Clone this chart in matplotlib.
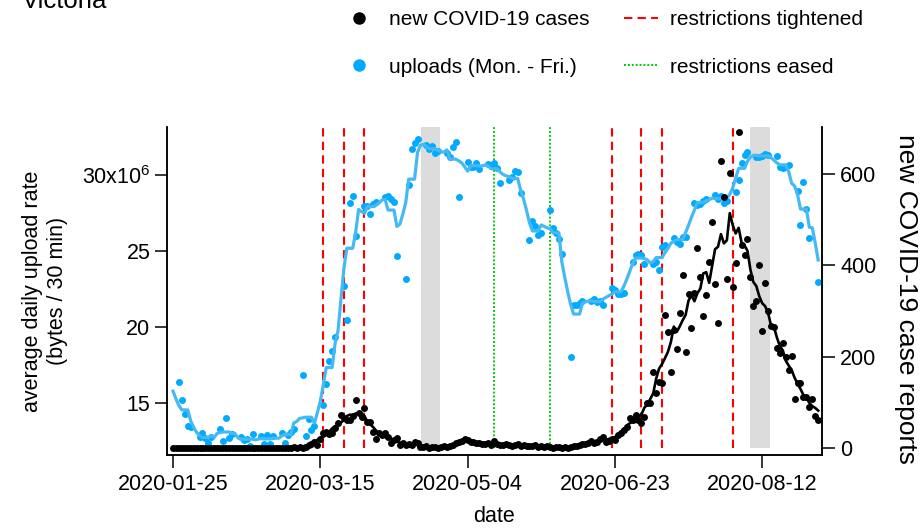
import matplotlib
matplotlib.use("Agg")
import matplotlib.pyplot as plt
from matplotlib.lines import Line2D
import pandas as pd

plt.rcParams['font.family'] = ['Liberation Sans', 'DejaVu Sans']
plt.rcParams['mathtext.fontset'] = 'custom'
plt.rcParams['mathtext.rm'] = 'Liberation Sans'

# daily new cases, Victoria, from 2020-01-25
case_start = '2020-01-25'
cases = [1, 0, 0, 0, 1, 1, 0, 1, 0, 0,
         0, 0, 0, 0, 0, 0, 0, 0, 0, 0,
         0, 0, 0, 0, 0, 0, 0, 0, 0, 0,
         0, 0, 0, 0, 0, 0, 1, 0, 0, 1,
         1, 2, 1, 2,
         1, 3, 6, 9, 14, 6,
         20, 32, 36, 30, 32, 43, 55, 72, 65, 61,
         62, 70, 105, 76, 68, 87, 58, 58, 36, 19,
         32, 28, 32, 25, 12, 18, 21, 7, 10, 7,
         9, 6, 14, 12,
         3, 2, 4, 1, 3, 2, 1, 2, 4, 3, 5, 7,
         10, 13, 16, 19, 17, 14, 13, 12, 11, 9,
         8, 12, 7, 16, 9, 7, 6, 8, 6, 4, 7, 9, 5, 6, 4,
         5, 4, 6, 3, 5, 3, 4, 2, 1, 3, 2, 1, 2, 1, 2, 4, 5, 6, 8, 9,
         12, 16, 11, 14, 19, 25, 14, 16, 19, 18,
         28, 32, 40, 47, 65, 61, 72, 61, 55, 67,
         98, 98, 167, 120, 145, 142, 291, 255, 167, 258,
         216, 295, 379, 211, 337, 262, 340, 437, 375, 288,
         334, 408, 494, 359, 274, 629, 550, 370, 602, 353,
         405, 691, 445, 422, 457, 375, 311, 322, 401, 256,
         361, 301, 267, 266, 218, 209, 231, 200, 171, 201,
         108, 143, 142, 111, 111, 89, 108, 70, 61]

# average daily upload rate (millions of bytes / 30 min), weekdays only
upload_start = '2020-01-27'
upload_end = '2020-08-31'
uploads = [16.36, 15.20, 14.28, 13.49, 13.40,
           12.78, 13.00, 12.72, 12.39, 12.78,
           13.31, 12.52, 14.01, 12.68, 12.96,
           12.78, 12.55, 12.61, 12.20, 12.94,
           12.83, 12.30, 12.89, 12.30, 12.85,
           13.05, 12.35, 12.89, 13.10, 13.27,
           16.84, 12.83, 13.93, 13.22, 13.51,
           14.87, 16.25, 17.78, 18.44, 19.32,
           22.70, 20.46, 28.14, 28.62, 25.99,
           27.96, 27.96, 27.41, 28.09, 28.20,
           28.53, 28.62, 28.40, 28.24, 24.69,
           23.14, 29.34, 31.69, 32.13, 32.35,
           31.97, 31.70, 31.91, 31.47, 31.60,
           31.47, 31.20, 31.82, 32.19, 28.57,
           30.88, 30.55, 30.51, 30.77, 30.38,
           30.72, 30.66, 30.77, 30.44, 29.45,
           29.67, 29.89, 30.28, 30.22, 28.84,
           25.72, 26.99, 26.64, 26.05, 26.20,
           27.70, 26.49, 26.20, 25.77, 24.80,
           18.05, 21.45, 21.45, 21.60, 21.71,
           21.73, 21.82, 21.66, 21.70, 21.45,
           22.55, 22.43, 22.20, 22.17, 22.22,
           24.30, 24.74, 24.80, 24.74, 24.12,
           24.14, 24.30, 23.75, 25.24, 25.40,
           25.84, 25.61, 25.46, 25.90, 25.95,
           28.14, 28.03, 28.10, 28.30, 28.40,
           28.68, 28.40, 28.62, 28.18, 28.29,
           28.90, 29.67, 30.77, 31.32, 31.53,
           31.20, 31.16, 31.25, 31.38, 31.30,
           31.25, 30.50, 30.44, 30.50, 30.66,
           28.95, 26.71, 29.56, 27.74, 25.84,
           22.98]

tightened = ['2020-03-16', '2020-03-23', '2020-03-30', '2020-06-22',
             '2020-07-02', '2020-07-09', '2020-08-02']
eased = ['2020-05-13', '2020-06-01']
holidays = [('2020-04-18 06:00', '2020-04-24 18:00'),
            ('2020-08-08 00:00', '2020-08-14 12:00')]
xtick_dates = ['2020-01-25', '2020-03-15', '2020-05-04', '2020-06-23', '2020-08-12']

case_dates = pd.date_range(case_start, periods=len(cases))
upload_dates = pd.bdate_range(upload_start, upload_end)
case_s = pd.Series(cases, index=case_dates)
upload_s = pd.Series(uploads, index=upload_dates)

# 7 day centred rolling means
case_smooth = case_s.rolling(7, center=True, min_periods=1).mean()
upload_smooth = upload_s.reindex(case_dates).rolling(7, center=True, min_periods=1).mean()

fig = plt.figure(figsize=(9.22, 5.28), dpi=100)
ax = fig.add_axes([167 / 922, 1 - 455 / 528, 655 / 922, 328 / 528])
ax2 = ax.twinx()

for a, b in holidays:
    ax.axvspan(pd.Timestamp(a), pd.Timestamp(b), ymin=0.02, ymax=1,
               color='#dcdcdc', lw=0, zorder=0)
for d in tightened:
    ax.axvline(pd.Timestamp(d), ymin=0.02, ymax=1, color='#ff0000', lw=1.5,
               dashes=(4, 2.5), zorder=1)
for d in eased:
    ax.axvline(pd.Timestamp(d), ymin=0.02, ymax=1, color='#00cc00', lw=1.4,
               dashes=(1, 1), zorder=1)

ax.plot(upload_s.index, upload_s.values, 'o', color='#00aaff', ms=5, mew=0, zorder=2)
ax.plot(upload_smooth.index, upload_smooth.values, color='#45b9f3', lw=2.3, zorder=3)
ax2.plot(case_s.index, case_s.values, 'o', color='black', ms=5, mew=0, zorder=2)
ax2.plot(case_smooth.index, case_smooth.values, color='black', lw=1.9, zorder=3)

x0 = pd.Timestamp(case_start)
ax.set_xlim(x0 - pd.Timedelta(days=2.04), x0 + pd.Timedelta(days=220.3))
ax.set_ylim(11.58, 33.16)
ax2.set_ylim(-15.3, 702.9)

ax.set_xticks(pd.to_datetime(xtick_dates))
ax.set_xticklabels(xtick_dates)
ax.set_yticks([15, 20, 25, 30])
ax.set_yticklabels(['15', '20', '25', '30x10$^6$'])
ax2.set_yticks([0, 200, 400, 600])

for a in (ax, ax2):
    a.spines['top'].set_visible(False)
    for s in a.spines.values():
        s.set_linewidth(1.1)
    a.tick_params(direction='out', length=9, width=1.1, labelsize=15.5)
ax.tick_params(axis='x', pad=5)
ax.tick_params(axis='y', pad=3)
ax2.tick_params(axis='y', pad=4)

fig.text(494 / 922, 1 - 517 / 528, 'date', ha='center', va='center', fontsize=15.5)
fig.text(45 / 922, 1 - 291 / 528, 'average daily upload rate\n(bytes / 30 min)',
         ha='center', va='center', rotation=90, fontsize=15.5, linespacing=1.25)
fig.text(906 / 922, 1 - 299 / 528, 'new COVID-19 case reports', ha='center',
         va='center', rotation=270, fontsize=19)
fig.text(22 / 922, 1 - 8 / 528, 'Victoria', ha='left', va='baseline', fontsize=18.5)

handles = [
    Line2D([], [], ls='', marker='o', color='black', ms=9, mew=0),
    Line2D([], [], ls='', marker='o', color='#00aaff', ms=9, mew=0),
    Line2D([], [], color='#ff0000', lw=1.5, dashes=(4, 2.5)),
    Line2D([], [], color='#00cc00', lw=1.4, dashes=(1, 1)),
]
labels = ['new COVID-19 cases', 'uploads (Mon. - Fri.)',
          'restrictions tightened', 'restrictions eased']
fig.legend(handles, labels, ncol=2, loc='center', bbox_to_anchor=(603 / 922, 1 - 43.5 / 528),
           frameon=False, fontsize=15, handlelength=1.6, handletextpad=0.6,
           columnspacing=1.7, labelspacing=1.35, borderpad=0)

fig.savefig('out.png', dpi=100)
